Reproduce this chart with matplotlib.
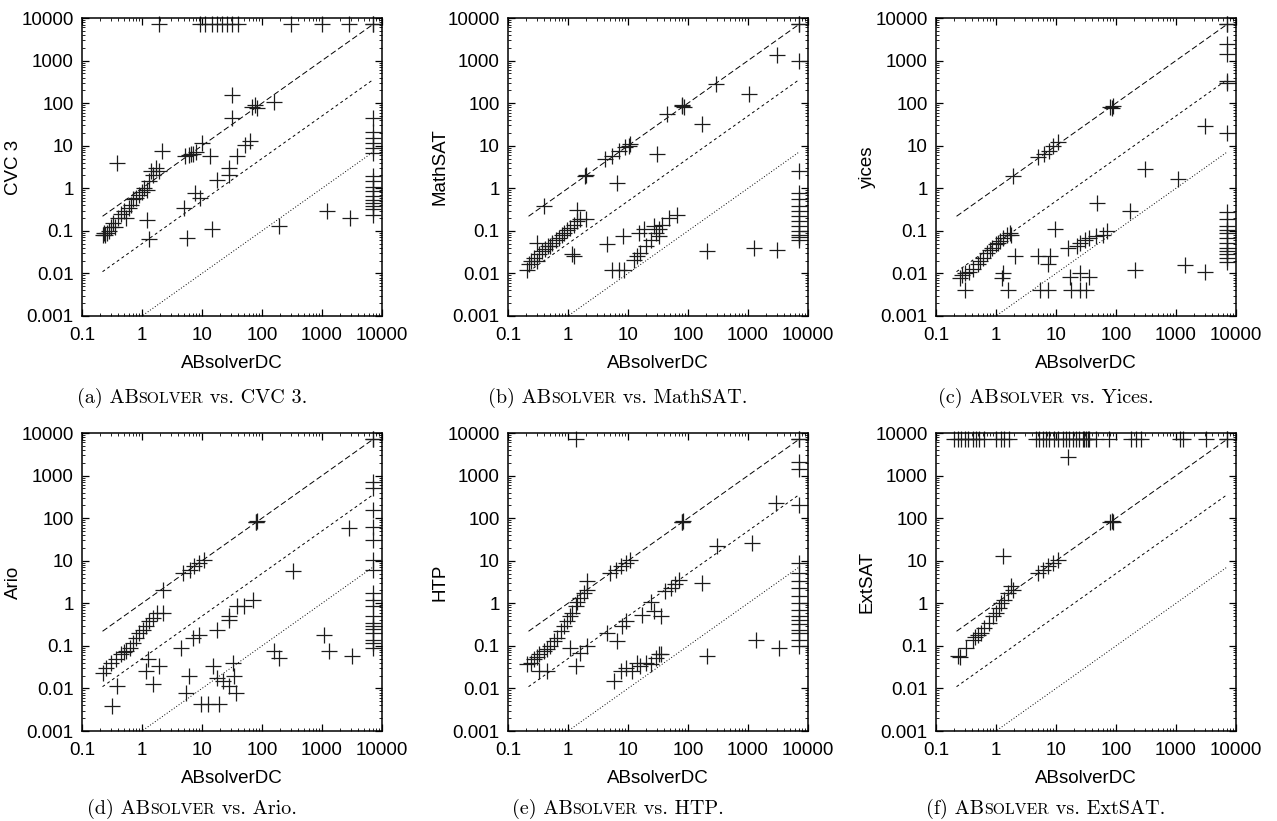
import matplotlib
matplotlib.use("Agg")
import matplotlib.pyplot as plt
import numpy as np
from matplotlib.offsetbox import TextArea, HPacker, AnchoredOffsetbox
from matplotlib.ticker import LogLocator, NullFormatter

# ---------------- data ----------------
T = 7200  # timeout

cvc3_x = [0.22, 0.23, 0.24, 0.26, 0.28, 0.3, 0.33, 0.36, 0.4, 0.45, 0.5, 0.55, 0.6, 0.65, 0.7, 0.8,
          0.9, 1.0, 1.1, 1.2, 1.3, 1.4, 1.5, 1.7, 1.9, 2.15, 0.38, 1.2, 1.3,
          5.3, 6, 6.5, 7, 8, 10, 5, 5.6, 7.7, 9.4, 13.8, 14.7, 17.8, 27.8, 27.8, 31.6, 31.6, 38, 52, 63,
          68, 77, 82, 156, 190, 1200, 2940,
          1.9, 9.4, 11.4, 14.6, 17.8, 21.5, 26, 31.6, 40, 300, 1000, 2800, 7200, 7200,
          7200, 7200, 7200, 7200, 7200, 7200, 7200, 7200, 7200, 7200, 7200, 7200, 7200, 7200, 7200, 7200]
cvc3_y = [0.08, 0.09, 0.08, 0.09, 0.1, 0.12, 0.15, 0.12, 0.2, 0.25, 0.3, 0.2, 0.35, 0.4, 0.55, 0.6,
          0.7, 0.8, 1.0, 0.9, 1.5, 2.5, 2.0, 3.0, 2.5, 7.4, 3.9, 0.18, 0.063,
          5.6, 6, 6.5, 6.5, 7, 11.6, 0.35, 0.068, 0.78, 0.59, 5.6, 0.11, 1.6, 3, 2.1, 157, 44.5, 5.6, 10.6, 12.6,
          83, 91, 76, 109, 0.13, 0.29, 0.2,
          7200, 7200, 7200, 7200, 7200, 7200, 7200, 7200, 7200, 7200, 7200, 7200, 7200, 7200,
          44, 21, 15, 11.5, 8.8, 6.7, 1.9, 1.46, 1.1, 0.85, 0.65, 0.54, 0.45, 0.38, 0.32, 0.24]

mathsat_x = [7200, 7200, 3090, 7200, 290, 1040, 80, 85, 78, 172, 45, 31, 6.6, 2.0, 1.9, 0.4,
             4.2, 5.5, 7.1, 9, 10.4, 11,
             0.21, 0.22, 0.24, 0.27, 0.3, 0.33, 0.37, 0.42, 0.46, 0.5, 0.55, 0.63, 0.71, 0.78, 0.86,
             0.97, 1.1, 1.26, 1.43, 1.6, 2.0, 1.43, 0.31, 1.26, 1.18,
             4.5, 8.1, 5.5, 7.1, 8.6, 14.3, 12.6, 15, 18.5, 19.7, 23.8, 27.2, 29, 32.7, 37, 48, 66, 16, 33,
             210, 1250, 3090,
             7200, 7200, 7200, 7200, 7200, 7200, 7200, 7200, 7200, 7200, 7200, 7200]
mathsat_y = [7200, 7200, 1340, 1000, 288, 166, 85, 80, 90, 32, 56, 6.3, 1.36, 2.0, 1.9, 0.38,
             4.8, 5.8, 7.6, 9.1, 10, 11,
             0.012, 0.017, 0.02, 0.023, 0.02, 0.028, 0.033, 0.038, 0.043, 0.045, 0.052, 0.062, 0.068, 0.08, 0.089,
             0.107, 0.118, 0.14, 0.17, 0.185, 0.185, 0.31, 0.052, 0.025, 0.028,
             0.048, 0.075, 0.012, 0.012, 0.012, 0.025, 0.021, 0.09, 0.108, 0.043, 0.062, 0.13, 0.09, 0.108, 0.14,
             0.2, 0.24, 0.03, 0.075,
             0.033, 0.04, 0.036,
             2.5, 0.79, 0.55, 0.38, 0.29, 0.22, 0.17, 0.13, 0.1, 0.08, 0.062, 0.07]

yices_x = [7200, 7200, 7200, 7200, 7200, 7200, 7200, 7200, 7200, 7200, 7200, 7200, 7200, 7200, 7200,
           7200, 7200, 7200, 7200,
           90, 80, 85, 3000, 1.95, 5.1, 6.2, 7.5, 9, 10.9, 305, 1100, 47.5, 170, 9.6,
           0.25, 0.27, 0.3, 0.35, 0.42, 0.5, 0.55, 0.6, 0.7, 0.78, 0.85, 1.0, 1.1, 1.17, 1.33, 1.5, 1.7, 1.8,
           0.3, 1.6, 1.33, 1.25, 2.07, 5.1, 7.9, 7.4, 5.4, 7.4,
           16, 25, 30, 36, 47, 70, 60, 22,
           17, 25, 35, 18, 25, 32,
           207, 1400, 3000]
yices_y = [7200, 7200, 2500, 1460, 340, 290, 20, 0.27, 0.19, 0.13, 0.107, 0.09, 0.068, 0.052, 0.04,
           0.033, 0.028, 0.023, 0.019,
           88, 80, 75, 29.5, 1.96, 5.3, 6.3, 7.6, 10, 11.9, 2.8, 1.63, 0.46, 0.29, 0.108,
           0.0078, 0.009, 0.01, 0.011, 0.013, 0.017, 0.02, 0.023, 0.03, 0.035, 0.04, 0.048, 0.052, 0.057,
           0.068, 0.082, 0.089, 0.08,
           0.0041, 0.0041, 0.0101, 0.0078, 0.025, 0.025, 0.025, 0.017, 0.0041, 0.0041,
           0.04, 0.052, 0.062, 0.068, 0.075, 0.098, 0.08, 0.045,
           0.0083, 0.01, 0.0083, 0.0041, 0.0041, 0.0041,
           0.012, 0.016, 0.011]

ario_x = [7200, 7200, 80, 78, 82, 2.2, 4.8, 6.2, 7.4, 9, 10.9, 2870, 323,
          7200, 7200, 7200, 7200, 7200, 7200, 7200, 7200, 7200, 7200, 7200, 7200, 7200, 7200, 7200,
          7200, 7200, 7200,
          0.22, 0.25, 0.3, 0.37, 0.45, 0.5, 0.54, 0.62, 0.7, 0.8, 0.9, 1.03, 1.17, 1.33, 1.5, 1.8, 2.2,
          0.39, 0.32, 1.24, 1.17, 1.5, 1.94,
          4.5, 7, 9, 18, 28, 28, 39, 50, 70,
          6.1, 5.4, 9.6, 12.4, 19.4, 15, 18, 22, 28, 34.5, 32.5, 37,
          160, 195, 1100, 1320, 3200]
ario_y = [7200, 7200, 83, 80, 85, 2.1, 5.1, 6.2, 7.4, 8.8, 10.6, 58, 5.6,
          720, 510, 158, 63, 31, 10.6, 6.1, 1.75, 1.2, 0.85, 0.5, 0.35, 0.29, 0.2, 0.14,
          0.117, 0.09, 0.25,
          0.023, 0.03, 0.04, 0.048, 0.063, 0.07, 0.075, 0.09, 0.117, 0.154, 0.2, 0.24, 0.29, 0.38, 0.45,
          0.6, 0.6,
          0.0113, 0.0039, 0.048, 0.026, 0.0125, 0.033,
          0.09, 0.154, 0.18, 0.24, 0.41, 0.5, 0.85, 0.85, 1.2,
          0.0195, 0.0079, 0.0042, 0.0042, 0.0042, 0.033, 0.018, 0.015, 0.0113, 0.0195, 0.04, 0.0079,
          0.075, 0.052, 0.18, 0.075, 0.057]

htp_x = [7200, 7200, 1.34,
         7200, 7200, 7200, 7200, 7200, 7200, 7200, 7200, 7200, 7200, 7200, 7200, 7200, 7200, 7200,
         7200, 7200,
         80, 78, 82, 2900, 310, 1180, 172, 1340, 3300, 210,
         5.1, 6.2, 7.5, 9.1, 11,
         0.21, 0.24, 0.27, 0.3, 0.33, 0.4, 0.45, 0.51, 0.58, 0.66, 0.75, 0.86, 0.97, 1.1, 1.18, 1.34,
         1.43, 1.6, 1.85, 2.1, 2.1,
         0.33, 0.45, 1.1, 1.34, 1.6, 2.1,
         4.5, 6.6, 8, 9.1, 17.3, 23.8, 27, 35, 42, 52, 71, 60,
         5.8, 7.5, 9.1, 11.8, 14.3, 16, 19.6, 24, 29, 33, 35]
htp_y = [7200, 7200, 7200,
         2130, 1450, 205, 8.8, 5.1, 3.3, 2.3, 1.46, 1.0, 0.71, 0.5, 0.41, 0.32, 0.24, 0.2,
         0.14, 0.098,
         83, 80, 86, 224, 21.7, 26, 3, 0.14, 0.09, 0.057,
         5.1, 6.2, 7.4, 8.8, 10.6,
         0.037, 0.04, 0.048, 0.055, 0.063, 0.075, 0.085, 0.1, 0.128, 0.154, 0.22, 0.29, 0.38, 0.5, 0.6, 0.85,
         1.1, 1.33, 1.75, 2.1, 3.3,
         0.026, 0.026, 0.09, 0.033, 0.068, 0.098,
         0.2, 0.128, 0.29, 0.38, 0.54, 1.1, 0.65, 0.5, 1.9, 2.3, 3.6, 2.8,
         0.015, 0.026, 0.03, 0.026, 0.04, 0.033, 0.04, 0.037, 0.052, 0.063, 0.063]

extsat_top_x = [0.2, 0.23, 0.26, 0.3, 0.34, 0.41, 0.46, 0.53, 0.64, 1.0, 1.21, 1.38, 1.67,
                4.6, 5.3, 6.0, 6.8, 7.7, 9.4, 10.7, 12.9, 14.7, 16.7, 19, 21.5, 24.5, 27.8, 29.7,
                31.6, 33.7, 35.9, 46.4, 77, 177, 215, 260, 1150, 1290, 3160, 7200, 7200]
extsat_x = [15.6, 1.29, 88, 80, 85,
            5, 6, 7.3, 8.8, 10.7,
            0.23, 0.25, 0.32, 0.41, 0.45, 0.5, 0.56, 0.64, 0.77, 0.88, 1.0, 1.14, 1.21, 1.38, 1.57,
            1.78, 1.9]
extsat_y = [2800, 12.6, 83, 80, 86,
            5.1, 6.2, 7.4, 8.8, 10.6,
            0.057, 0.055, 0.09, 0.14, 0.16, 0.18, 0.2, 0.26, 0.35, 0.5, 0.6, 0.78, 1.0, 1.2, 1.75,
            2.5, 2.1]

panels = [
    ("CVC 3", "a", "CVC 3.", cvc3_x, cvc3_y),
    ("MathSAT", "b", "MathSAT.", mathsat_x, mathsat_y),
    ("yices", "c", "Yices.", yices_x, yices_y),
    ("Ario", "d", "Ario.", ario_x, ario_y),
    ("HTP", "e", "HTP.", htp_x, htp_y),
    ("ExtSAT", "f", "ExtSAT.", extsat_x + extsat_top_x, extsat_y + [T] * len(extsat_top_x)),
]

x_ticks = [0.1, 1, 10, 100, 1000, 10000]
x_ticklabels = ["0.1", "1", "10", "100", "1000", "10000"]
y_ticks = [0.001, 0.01, 0.1, 1, 10, 100, 1000, 10000]
y_ticklabels = ["0.001", "0.01", "0.1", "1", "10", "100", "1000", "10000"]
ref_factors = [1, 20, 1000]
ref_styles = [(0, (6, 3)), (0, (3, 3)), (0, (1, 2))]
ref_range = [0.22, 7200]

# ---------------- layout ----------------
W, H = 1277, 821
fig = plt.figure(figsize=(W / 100, H / 100), dpi=100)
fig.patch.set_facecolor("white")

col_left = [82, 508, 936]
row_top = [18, 433]
aw, ah = 300, 298
caption_y = [398, 809]

sans = "Liberation Sans"
fs = 13.5

for i, (ylab, letter, capname, xs, ys) in enumerate(panels):
    r, c = divmod(i, 3)
    l = col_left[c] / W
    b = 1 - (row_top[r] + ah) / H
    ax = fig.add_axes([l, b, aw / W, ah / H])
    ax.set_xscale("log")
    ax.set_yscale("log")
    ax.set_xlim(0.1, 10000)
    ax.set_ylim(0.001, 10000)

    rx = np.array(ref_range)
    for f, ls in zip(ref_factors, ref_styles):
        ax.plot(rx, rx / f, color="black", lw=0.7, linestyle=ls)

    ax.plot(xs, ys, linestyle="none", marker="+", markersize=12, mew=0.9,
            color="#1c1c1c", clip_on=False)

    ax.set_xticks(x_ticks)
    ax.set_xticklabels(x_ticklabels, fontsize=fs, family=sans)
    ax.set_yticks(y_ticks)
    ax.set_yticklabels(y_ticklabels, fontsize=fs, family=sans)
    ax.xaxis.set_minor_locator(LogLocator(base=10, subs=np.arange(2, 10), numticks=20))
    ax.yaxis.set_minor_locator(LogLocator(base=10, subs=np.arange(2, 10), numticks=20))
    ax.xaxis.set_minor_formatter(NullFormatter())
    ax.yaxis.set_minor_formatter(NullFormatter())
    ax.tick_params(which="major", direction="in", length=5, width=0.9,
                   top=True, right=True)
    ax.tick_params(axis="x", which="major", pad=8)
    ax.tick_params(axis="y", which="major", pad=6)
    ax.tick_params(which="minor", direction="in", length=2.5, width=0.6,
                   top=True, right=True)
    for s in ax.spines.values():
        s.set_linewidth(1.1)

    ax.set_xlabel("ABsolverDC", fontsize=fs, family=sans, labelpad=8)
    ax.set_ylabel(ylab, fontsize=fs, family=sans)
    ax.yaxis.set_label_coords(-0.2, 0.5)

    # caption with small caps
    cfs = 14.5
    parts = [
        TextArea("(%s) AB" % letter, textprops=dict(family="cmr10", size=cfs)),
        TextArea("SOLVER", textprops=dict(family="cmr10", size=cfs * 0.78)),
        TextArea(" vs. " + capname, textprops=dict(family="cmr10", size=cfs)),
    ]
    box = HPacker(children=parts, align="baseline", pad=0, sep=0)
    cx = (col_left[c] + aw / 2 - 40) / W
    cy = 1 - caption_y[r] / H
    anch = AnchoredOffsetbox(loc="center", child=box, pad=0, borderpad=0, frameon=False,
                             bbox_to_anchor=(cx, cy), bbox_transform=fig.transFigure)
    fig.add_artist(anch)

fig.savefig("out.png", dpi=100, facecolor="white")
